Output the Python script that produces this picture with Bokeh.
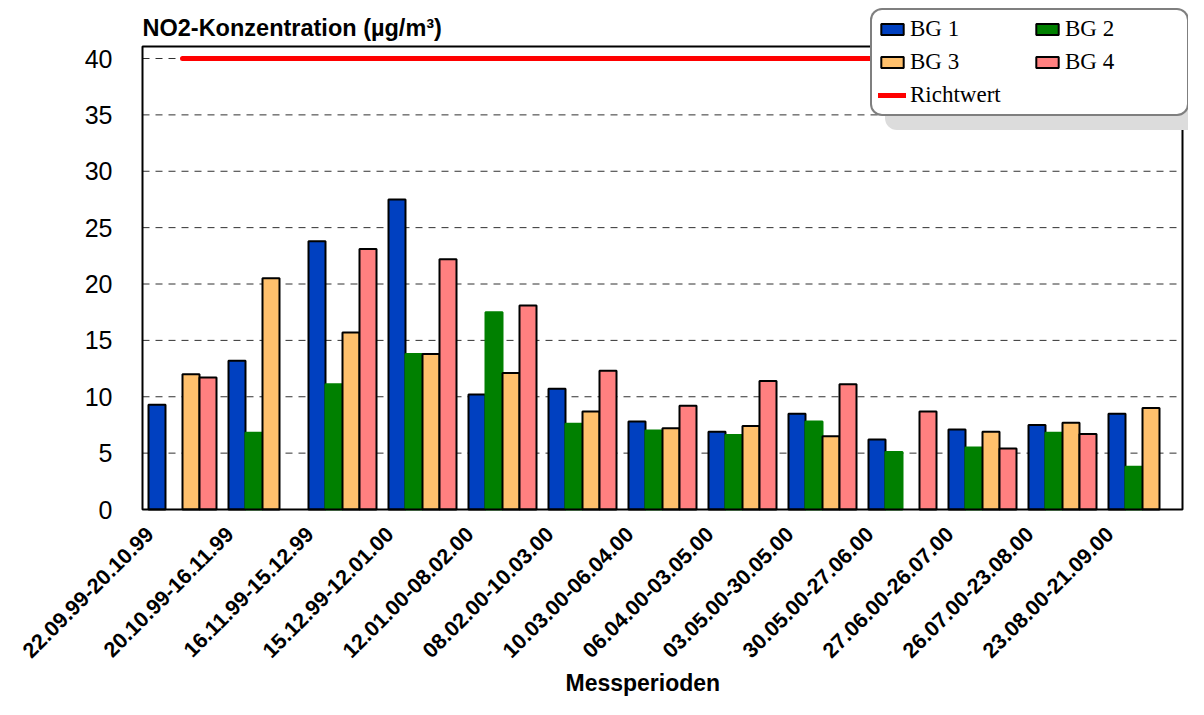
import numpy as np
from bokeh.plotting import figure
from bokeh.models import (Range1d, FixedTicker, Legend, LegendItem, ColumnDataSource,
                          Label, Title)
from bokeh.transform import dodge
from bokeh.embed import file_html
from bokeh.resources import INLINE

NaN = float("nan")

PERIODS = ["22.09.99-20.10.99", "20.10.99-16.11.99", "16.11.99-15.12.99",
           "15.12.99-12.01.00", "12.01.00-08.02.00", "08.02.00-10.03.00",
           "10.03.00-06.04.00", "06.04.00-03.05.00", "03.05.00-30.05.00",
           "30.05.00-27.06.00", "27.06.00-26.07.00", "26.07.00-23.08.00",
           "23.08.00-21.09.00"]
BG1 = [9.3, 13.2, 23.8, 27.5, 10.2, 10.7, 7.8, 6.9, 8.5, 6.2, 7.1, 7.5, 8.5]
BG2 = [NaN, 6.8, 11.1, 13.8, 17.5, 7.6, 7.0, 6.6, 7.8, 5.1, 5.5, 6.8, 3.8]
BG3 = [12.0, 20.5, 15.7, 13.8, 12.1, 8.7, 7.2, 7.4, 6.5, NaN, 6.9, 7.7, 9.0]
BG4 = [11.7, NaN, 23.1, 22.2, 18.1, 12.3, 9.2, 11.4, 11.1, 8.7, 5.4, 6.7, NaN]
RICHTWERT = [40, 40, 40, 40, 40, 40, 40, 40, 40, 40, 40, 40, 40]
Y_TICKS = [0, 5, 10, 15, 20, 25, 30, 35, 40]
GRID_LEVELS = [5, 10, 15, 20, 25, 30, 35, 40]

SERIES_NAMES = ["BG 1", "BG 2", "BG 3", "BG 4"]
COLORS = ["#0040C0", "#008000", "#FFC06C", "#FF8080"]

# ---- layout constants (pixels / category units) ----
W, H = 1188, 699
FRAME_L, FRAME_T, FRAME_B = 140, 6, 511      # drawing frame (slightly larger than plot box)
PX_PER_CAT = 80.0
PX_PER_Y = 11.275
Y0_PX = 509                                   # pixel row of y = 0
PLOT_TOP_PX = 46                              # visible plot-box top

SHIFT = 0.41          # label anchor (integer tick) sits left of the group centre
BAR_W = 0.2125
OFFSETS = [-1.5 * BAR_W, -0.5 * BAR_W, 0.5 * BAR_W, 1.5 * BAR_W]

n = len(PERIODS)
ticks = list(range(1, n + 1))
centers = np.array(ticks, dtype=float) + SHIFT

x_start = 1 + SHIFT - (182 - FRAME_L) / PX_PER_CAT
x_end = x_start + (W - FRAME_L) / PX_PER_CAT
y_start = -(FRAME_B - Y0_PX) / PX_PER_Y
y_end = (Y0_PX - FRAME_T) / PX_PER_Y
box_left = 1 + SHIFT - 0.5
box_right = n + SHIFT + 0.5
box_top = (Y0_PX - PLOT_TOP_PX) / PX_PER_Y

p = figure(width=W, height=H, output_backend="svg", toolbar_location=None,
           x_range=Range1d(x_start, x_end), y_range=Range1d(y_start, y_end),
           min_border_left=FRAME_L, min_border_right=0, min_border_top=FRAME_T,
           min_border_bottom=H - FRAME_B)

p.background_fill_color = "white"
p.border_fill_color = "white"
p.outline_line_color = None
p.xgrid.grid_line_color = None
p.ygrid.grid_line_color = None

# y axis
p.yaxis.ticker = FixedTicker(ticks=Y_TICKS)
p.yaxis.axis_line_color = None
p.yaxis.major_tick_line_color = None
p.yaxis.minor_tick_line_color = None
p.yaxis.major_tick_out = 0
p.yaxis.major_tick_in = 0
p.yaxis.major_label_text_font = "Liberation Sans"
p.yaxis.major_label_text_font_size = "25px"
p.yaxis.major_label_text_color = "black"
p.yaxis.major_label_standoff = 28

# x axis
p.xaxis.ticker = FixedTicker(ticks=ticks)
p.xaxis.major_label_overrides = {t: lab for t, lab in zip(ticks, PERIODS)}
p.xaxis.major_label_orientation = np.pi / 4
p.xaxis.axis_line_color = None
p.xaxis.major_tick_line_color = None
p.xaxis.minor_tick_line_color = None
p.xaxis.major_tick_out = 0
p.xaxis.major_tick_in = 0
p.xaxis.major_label_text_font = "Liberation Sans"
p.xaxis.major_label_text_font_style = "bold"
p.xaxis.major_label_text_font_size = "21.5px"
p.xaxis.major_label_text_color = "black"
p.xaxis.major_label_standoff = 19

# x-axis title placed as a below title so it can be positioned horizontally
p.add_layout(Title(text="Messperioden", align="left", offset=565 - FRAME_L, standoff=0,
                   text_font="Liberation Sans", text_font_style="bold",
                   text_font_size="23px", text_color="black"), "below")

# dashed horizontal grid lines inside the plot box
p.segment(x0=[box_left] * len(GRID_LEVELS), x1=[box_right] * len(GRID_LEVELS),
          y0=GRID_LEVELS, y1=GRID_LEVELS, line_color="#303030", line_width=1,
          line_dash="7 6")

src = ColumnDataSource(dict(
    x=centers,
    bg1=np.array(BG1, dtype=float), bg2=np.array(BG2, dtype=float),
    bg3=np.array(BG3, dtype=float), bg4=np.array(BG4, dtype=float),
    rw=np.array(RICHTWERT, dtype=float),
))

renderers = []
for i, (field, color) in enumerate(zip(["bg1", "bg2", "bg3", "bg4"], COLORS)):
    line_color = color if i == 1 else "black"
    r = p.vbar(x=dodge("x", OFFSETS[i], range=p.x_range), top=field, width=BAR_W,
               source=src, fill_color=color, line_color=line_color, line_width=2)
    renderers.append(r)

rw = p.line(x="x", y="rw", source=src, line_color="#FF0000", line_width=5,
            line_cap="round")

# plot box outline
p.quad(left=[box_left], right=[box_right], bottom=[0], top=[box_top],
       fill_color=None, line_color="black", line_width=2)

# title
p.add_layout(Label(x=142 - FRAME_L, y=FRAME_B - 27, x_units="screen", y_units="screen",
                   text="NO2-Konzentration (µg/m³)", text_font="Liberation Sans",
                   text_font_style="bold", text_font_size="23.5px", text_color="black",
                   text_baseline="alphabetic", text_align="left"))

# legend-only renderer so that BG 2 swatch has a black outline
dummy_bg2 = p.vbar(x=[NaN], top=[NaN], width=BAR_W, fill_color=COLORS[1],
                   line_color="black", line_width=2)

leg_kwargs = {}
if "border_radius" in Legend.properties():
    leg_kwargs["border_radius"] = 12

# legend shadow
dummy_sh = p.vbar(x=[NaN], top=[NaN], width=0.1, fill_alpha=0, line_alpha=0)
shadow = Legend(items=[LegendItem(label=" ", renderers=[dummy_sh])],
                location=(885 - FRAME_L, FRAME_B - 130), padding=0, margin=0,
                glyph_width=28, glyph_height=14, label_standoff=0,
                label_width=330, label_height=107,
                background_fill_color="#DCDCDC", background_fill_alpha=1,
                border_line_color=None, label_text_alpha=0, **leg_kwargs)
p.add_layout(shadow, "center")

legend = Legend(items=[
    LegendItem(label=SERIES_NAMES[0], renderers=[renderers[0]]),
    LegendItem(label=SERIES_NAMES[1], renderers=[dummy_bg2]),
    LegendItem(label=SERIES_NAMES[2], renderers=[renderers[2]]),
    LegendItem(label=SERIES_NAMES[3], renderers=[renderers[3]]),
    LegendItem(label="Richtwert", renderers=[rw]),
], location=(870 - FRAME_L, FRAME_B - 116), orientation="horizontal", ncols=2,
    padding=6, margin=0, spacing=7, glyph_width=28, glyph_height=14, label_standoff=4,
    label_width=116, label_height=24,
    label_text_font="Liberation Serif", label_text_font_size="23px",
    label_text_color="black",
    border_line_color="black", border_line_width=2,
    background_fill_color="white", background_fill_alpha=1, **leg_kwargs)
p.add_layout(legend, "center")

open("out.html", "w").write(file_html(p, INLINE))
